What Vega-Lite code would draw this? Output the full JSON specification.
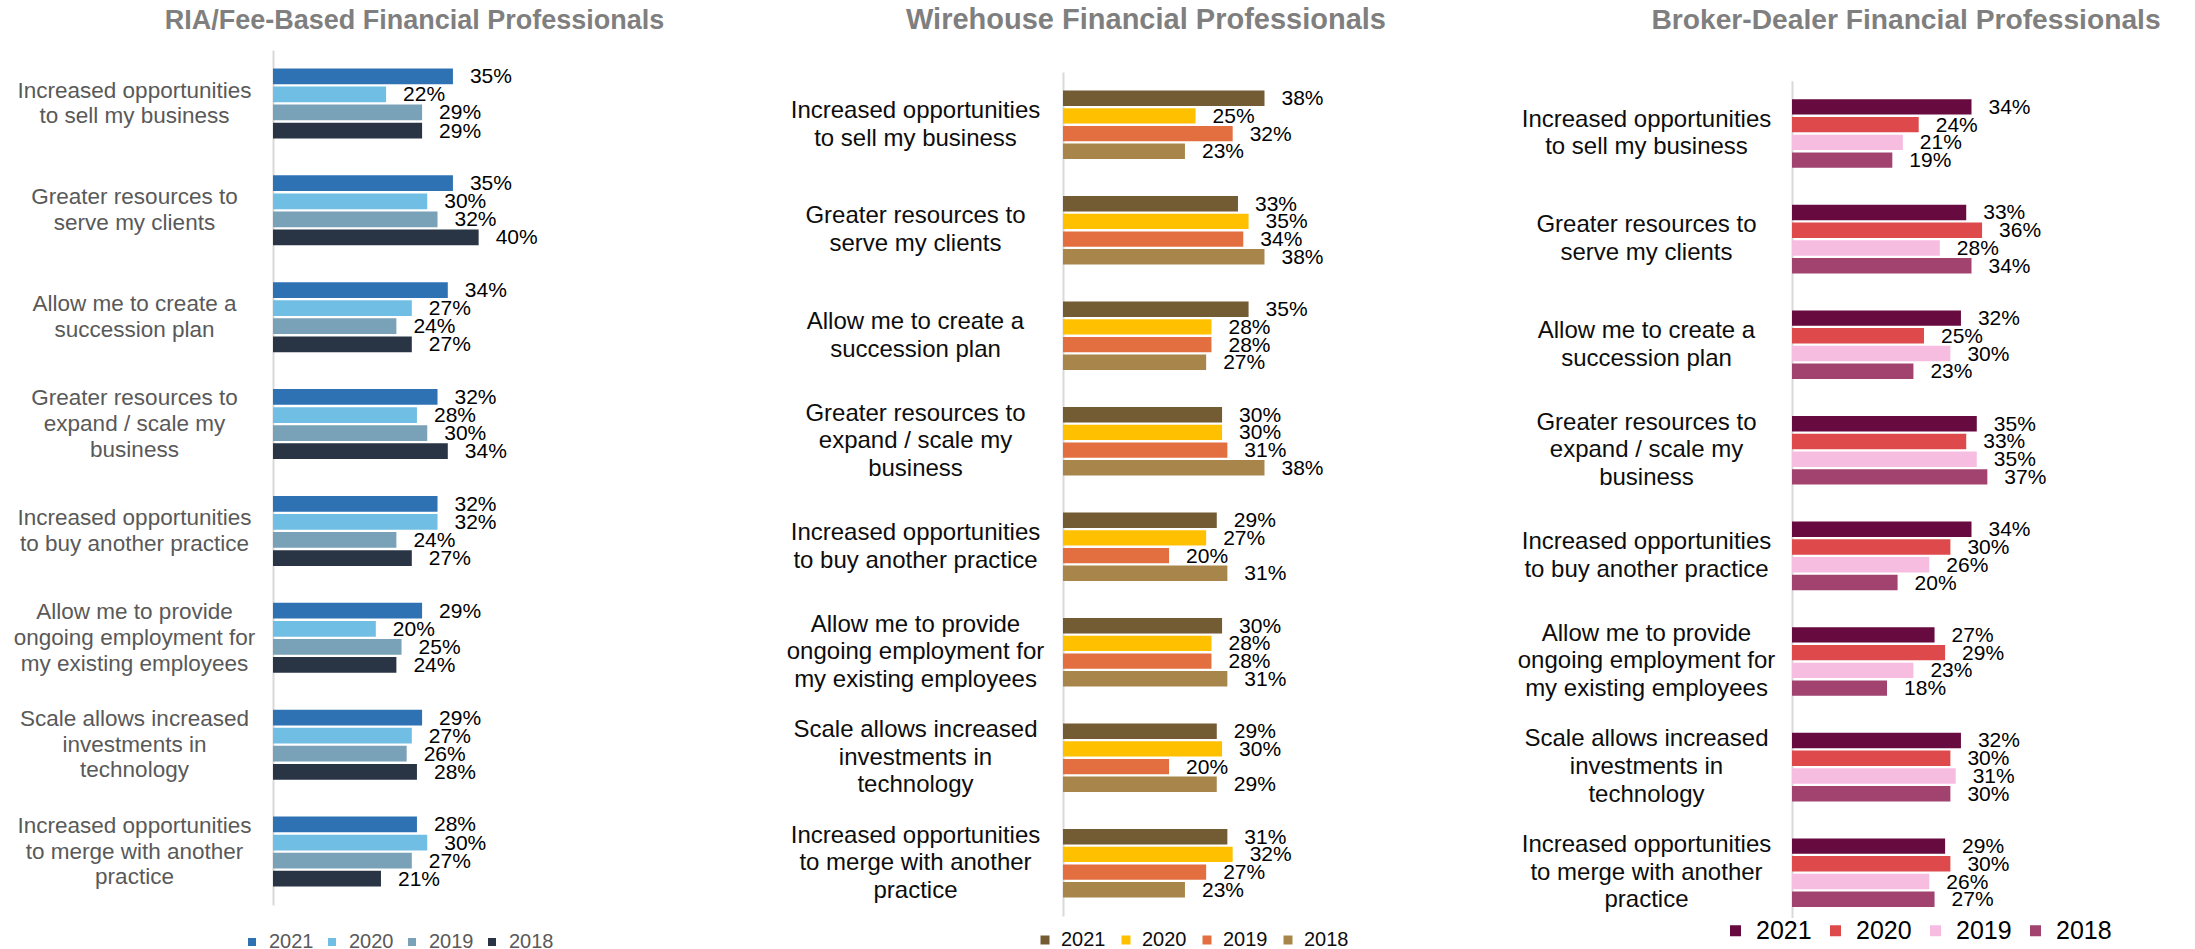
{
  "$schema": "https://vega.github.io/schema/vega-lite/v6.json",
  "background": "white",
  "padding": {"left": 13, "top": 5, "right": 0, "bottom": 0},
  "spacing": 112,
  "resolve": {"scale": {"color": "independent", "x": "independent", "y": "independent", "yOffset": "independent"}, "legend": {"color": "independent"}},
  "config": {"view": {"stroke": null}, "font": "Liberation Sans"},
  "datasets": {
    "ria": [
      {"category": "Increased opportunities\nto sell my business", "year": "2021", "value": 0.35},
      {"category": "Increased opportunities\nto sell my business", "year": "2020", "value": 0.22},
      {"category": "Increased opportunities\nto sell my business", "year": "2019", "value": 0.29},
      {"category": "Increased opportunities\nto sell my business", "year": "2018", "value": 0.29},
      {"category": "Greater resources to\nserve my clients", "year": "2021", "value": 0.35},
      {"category": "Greater resources to\nserve my clients", "year": "2020", "value": 0.30},
      {"category": "Greater resources to\nserve my clients", "year": "2019", "value": 0.32},
      {"category": "Greater resources to\nserve my clients", "year": "2018", "value": 0.40},
      {"category": "Allow me to create a\nsuccession plan", "year": "2021", "value": 0.34},
      {"category": "Allow me to create a\nsuccession plan", "year": "2020", "value": 0.27},
      {"category": "Allow me to create a\nsuccession plan", "year": "2019", "value": 0.24},
      {"category": "Allow me to create a\nsuccession plan", "year": "2018", "value": 0.27},
      {"category": "Greater resources to\nexpand / scale my\nbusiness", "year": "2021", "value": 0.32},
      {"category": "Greater resources to\nexpand / scale my\nbusiness", "year": "2020", "value": 0.28},
      {"category": "Greater resources to\nexpand / scale my\nbusiness", "year": "2019", "value": 0.30},
      {"category": "Greater resources to\nexpand / scale my\nbusiness", "year": "2018", "value": 0.34},
      {"category": "Increased opportunities\nto buy another practice", "year": "2021", "value": 0.32},
      {"category": "Increased opportunities\nto buy another practice", "year": "2020", "value": 0.32},
      {"category": "Increased opportunities\nto buy another practice", "year": "2019", "value": 0.24},
      {"category": "Increased opportunities\nto buy another practice", "year": "2018", "value": 0.27},
      {"category": "Allow me to provide\nongoing employment for\nmy existing employees", "year": "2021", "value": 0.29},
      {"category": "Allow me to provide\nongoing employment for\nmy existing employees", "year": "2020", "value": 0.20},
      {"category": "Allow me to provide\nongoing employment for\nmy existing employees", "year": "2019", "value": 0.25},
      {"category": "Allow me to provide\nongoing employment for\nmy existing employees", "year": "2018", "value": 0.24},
      {"category": "Scale allows increased\ninvestments in\ntechnology", "year": "2021", "value": 0.29},
      {"category": "Scale allows increased\ninvestments in\ntechnology", "year": "2020", "value": 0.27},
      {"category": "Scale allows increased\ninvestments in\ntechnology", "year": "2019", "value": 0.26},
      {"category": "Scale allows increased\ninvestments in\ntechnology", "year": "2018", "value": 0.28},
      {"category": "Increased opportunities\nto merge with another\npractice", "year": "2021", "value": 0.28},
      {"category": "Increased opportunities\nto merge with another\npractice", "year": "2020", "value": 0.30},
      {"category": "Increased opportunities\nto merge with another\npractice", "year": "2019", "value": 0.27},
      {"category": "Increased opportunities\nto merge with another\npractice", "year": "2018", "value": 0.21}
    ],
    "wire": [
      {"category": "Increased opportunities\nto sell my business", "year": "2021", "value": 0.38},
      {"category": "Increased opportunities\nto sell my business", "year": "2020", "value": 0.25},
      {"category": "Increased opportunities\nto sell my business", "year": "2019", "value": 0.32},
      {"category": "Increased opportunities\nto sell my business", "year": "2018", "value": 0.23},
      {"category": "Greater resources to\nserve my clients", "year": "2021", "value": 0.33},
      {"category": "Greater resources to\nserve my clients", "year": "2020", "value": 0.35},
      {"category": "Greater resources to\nserve my clients", "year": "2019", "value": 0.34},
      {"category": "Greater resources to\nserve my clients", "year": "2018", "value": 0.38},
      {"category": "Allow me to create a\nsuccession plan", "year": "2021", "value": 0.35},
      {"category": "Allow me to create a\nsuccession plan", "year": "2020", "value": 0.28},
      {"category": "Allow me to create a\nsuccession plan", "year": "2019", "value": 0.28},
      {"category": "Allow me to create a\nsuccession plan", "year": "2018", "value": 0.27},
      {"category": "Greater resources to\nexpand / scale my\nbusiness", "year": "2021", "value": 0.30},
      {"category": "Greater resources to\nexpand / scale my\nbusiness", "year": "2020", "value": 0.30},
      {"category": "Greater resources to\nexpand / scale my\nbusiness", "year": "2019", "value": 0.31},
      {"category": "Greater resources to\nexpand / scale my\nbusiness", "year": "2018", "value": 0.38},
      {"category": "Increased opportunities\nto buy another practice", "year": "2021", "value": 0.29},
      {"category": "Increased opportunities\nto buy another practice", "year": "2020", "value": 0.27},
      {"category": "Increased opportunities\nto buy another practice", "year": "2019", "value": 0.20},
      {"category": "Increased opportunities\nto buy another practice", "year": "2018", "value": 0.31},
      {"category": "Allow me to provide\nongoing employment for\nmy existing employees", "year": "2021", "value": 0.30},
      {"category": "Allow me to provide\nongoing employment for\nmy existing employees", "year": "2020", "value": 0.28},
      {"category": "Allow me to provide\nongoing employment for\nmy existing employees", "year": "2019", "value": 0.28},
      {"category": "Allow me to provide\nongoing employment for\nmy existing employees", "year": "2018", "value": 0.31},
      {"category": "Scale allows increased\ninvestments in\ntechnology", "year": "2021", "value": 0.29},
      {"category": "Scale allows increased\ninvestments in\ntechnology", "year": "2020", "value": 0.30},
      {"category": "Scale allows increased\ninvestments in\ntechnology", "year": "2019", "value": 0.20},
      {"category": "Scale allows increased\ninvestments in\ntechnology", "year": "2018", "value": 0.29},
      {"category": "Increased opportunities\nto merge with another\npractice", "year": "2021", "value": 0.31},
      {"category": "Increased opportunities\nto merge with another\npractice", "year": "2020", "value": 0.32},
      {"category": "Increased opportunities\nto merge with another\npractice", "year": "2019", "value": 0.27},
      {"category": "Increased opportunities\nto merge with another\npractice", "year": "2018", "value": 0.23}
    ],
    "bd": [
      {"category": "Increased opportunities\nto sell my business", "year": "2021", "value": 0.34},
      {"category": "Increased opportunities\nto sell my business", "year": "2020", "value": 0.24},
      {"category": "Increased opportunities\nto sell my business", "year": "2019", "value": 0.21},
      {"category": "Increased opportunities\nto sell my business", "year": "2018", "value": 0.19},
      {"category": "Greater resources to\nserve my clients", "year": "2021", "value": 0.33},
      {"category": "Greater resources to\nserve my clients", "year": "2020", "value": 0.36},
      {"category": "Greater resources to\nserve my clients", "year": "2019", "value": 0.28},
      {"category": "Greater resources to\nserve my clients", "year": "2018", "value": 0.34},
      {"category": "Allow me to create a\nsuccession plan", "year": "2021", "value": 0.32},
      {"category": "Allow me to create a\nsuccession plan", "year": "2020", "value": 0.25},
      {"category": "Allow me to create a\nsuccession plan", "year": "2019", "value": 0.30},
      {"category": "Allow me to create a\nsuccession plan", "year": "2018", "value": 0.23},
      {"category": "Greater resources to\nexpand / scale my\nbusiness", "year": "2021", "value": 0.35},
      {"category": "Greater resources to\nexpand / scale my\nbusiness", "year": "2020", "value": 0.33},
      {"category": "Greater resources to\nexpand / scale my\nbusiness", "year": "2019", "value": 0.35},
      {"category": "Greater resources to\nexpand / scale my\nbusiness", "year": "2018", "value": 0.37},
      {"category": "Increased opportunities\nto buy another practice", "year": "2021", "value": 0.34},
      {"category": "Increased opportunities\nto buy another practice", "year": "2020", "value": 0.30},
      {"category": "Increased opportunities\nto buy another practice", "year": "2019", "value": 0.26},
      {"category": "Increased opportunities\nto buy another practice", "year": "2018", "value": 0.20},
      {"category": "Allow me to provide\nongoing employment for\nmy existing employees", "year": "2021", "value": 0.27},
      {"category": "Allow me to provide\nongoing employment for\nmy existing employees", "year": "2020", "value": 0.29},
      {"category": "Allow me to provide\nongoing employment for\nmy existing employees", "year": "2019", "value": 0.23},
      {"category": "Allow me to provide\nongoing employment for\nmy existing employees", "year": "2018", "value": 0.18},
      {"category": "Scale allows increased\ninvestments in\ntechnology", "year": "2021", "value": 0.32},
      {"category": "Scale allows increased\ninvestments in\ntechnology", "year": "2020", "value": 0.30},
      {"category": "Scale allows increased\ninvestments in\ntechnology", "year": "2019", "value": 0.31},
      {"category": "Scale allows increased\ninvestments in\ntechnology", "year": "2018", "value": 0.30},
      {"category": "Increased opportunities\nto merge with another\npractice", "year": "2021", "value": 0.29},
      {"category": "Increased opportunities\nto merge with another\npractice", "year": "2020", "value": 0.30},
      {"category": "Increased opportunities\nto merge with another\npractice", "year": "2019", "value": 0.26},
      {"category": "Increased opportunities\nto merge with another\npractice", "year": "2018", "value": 0.27}
    ]
  },
  "hconcat": [
    {
      "data": {"name": "ria"},
      "width": 401,
      "height": 855,
      "title": {"text": "RIA/Fee-Based Financial Professionals", "font": "Liberation Sans", "fontSize": 27, "fontWeight": "bold", "color": "#7F7F7F", "anchor": "middle", "frame": "group", "offset": 15, "dx": -59},
      "encoding": {
        "y": {"field": "category", "type": "nominal", "sort": null,
          "scale": {"paddingInner": 0.345, "paddingOuter": 0.1725},
          "axis": {"title": null, "ticks": false, "tickSize": 0, "labelExpr": "split(datum.label, '\\n')", "labelAlign": "center", "labelBaseline": "middle", "labelPadding": 139, "labelLimit": 0,
            "labelOffset": {"condition": {"test": "length(split(datum.label, '\\n')) > 2", "value": -25.7}, "value": -12.85},
            "labelFont": "Liberation Sans", "labelFontSize": 22.5, "labelLineHeight": 25.7, "labelColor": "#595959", "domainColor": "#D9D9D9", "domainWidth": 2, "grid": false}},
        "yOffset": {"field": "year", "type": "nominal", "sort": ["2021", "2020", "2019", "2018"], "scale": {"paddingInner": 0.13, "paddingOuter": 0}},
        "x": {"field": "value", "type": "quantitative", "scale": {"domain": [0, 0.78], "nice": false}, "axis": null}
      },
      "layer": [
        {
          "mark": {"type": "bar"},
          "encoding": {
            "color": {"field": "year", "type": "nominal",
              "scale": {"domain": ["2021", "2020", "2019", "2018"], "range": ["#2E72B4", "#70BEE4", "#79A1B7", "#293544"]},
              "legend": {"title": null, "orient": "none", "direction": "horizontal", "columns": 4, "legendX": -31, "legendY": 882, "symbolType": "square", "symbolSize": 64, "symbolStrokeWidth": 0, "labelFont": "Liberation Sans", "labelFontSize": 20, "labelColor": "#595959", "labelOffset": 7, "columnPadding": 8}}
          }
        },
        {
          "mark": {"type": "text", "align": "left", "baseline": "middle", "dx": 17, "dy": 1, "font": "Liberation Sans", "fontSize": 21, "fill": "#000000"},
          "encoding": {"text": {"field": "value", "type": "quantitative", "format": ".0%"}}
        }
      ]
    },
    {
      "data": {"name": "wire"},
      "width": 342,
      "height": 866,
      "title": {"text": "Wirehouse Financial Professionals", "font": "Liberation Sans", "fontSize": 29, "fontWeight": "bold", "color": "#7F7F7F", "anchor": "middle", "frame": "group", "offset": 15, "dx": -88},
      "encoding": {
        "y": {"field": "category", "type": "nominal", "sort": null,
          "scale": {"paddingInner": 0.35, "paddingOuter": 0.175, "range": [22, 866]},
          "axis": {"title": null, "ticks": false, "tickSize": 0, "labelExpr": "split(datum.label, '\\n')", "labelAlign": "center", "labelBaseline": "middle", "labelPadding": 148, "labelLimit": 0,
            "labelOffset": {"condition": {"test": "length(split(datum.label, '\\n')) > 2", "value": -27.7}, "value": -13.85},
            "labelFont": "Liberation Sans", "labelFontSize": 24, "labelLineHeight": 27.7, "labelColor": "#0D0D0D", "domainColor": "#D9D9D9", "domainWidth": 2, "grid": false}},
        "yOffset": {"field": "year", "type": "nominal", "sort": ["2021", "2020", "2019", "2018"], "scale": {"paddingInner": 0.13, "paddingOuter": 0}},
        "x": {"field": "value", "type": "quantitative", "scale": {"domain": [0, 0.645], "nice": false}, "axis": null}
      },
      "layer": [
        {
          "mark": {"type": "bar"},
          "encoding": {
            "color": {"field": "year", "type": "nominal",
              "scale": {"domain": ["2021", "2020", "2019", "2018"], "range": ["#735B34", "#FFC000", "#E36F40", "#A8864B"]},
              "legend": {"title": null, "orient": "none", "direction": "horizontal", "columns": 4, "legendX": -28, "legendY": 880, "symbolType": "square", "symbolSize": 81, "symbolStrokeWidth": 0, "labelFont": "Liberation Sans", "labelFontSize": 20, "labelColor": "#0D0D0D", "labelOffset": 6, "columnPadding": 10}}
          }
        },
        {
          "mark": {"type": "text", "align": "left", "baseline": "middle", "dx": 17, "dy": 1, "font": "Liberation Sans", "fontSize": 21, "fill": "#000000"},
          "encoding": {"text": {"field": "value", "type": "quantitative", "format": ".0%"}}
        }
      ]
    },
    {
      "data": {"name": "bd"},
      "width": 340,
      "height": 875.5,
      "title": {"text": "Broker-Dealer Financial Professionals", "font": "Liberation Sans", "fontSize": 28.2, "fontWeight": "bold", "color": "#7F7F7F", "anchor": "middle", "frame": "group", "offset": 15, "dx": -56},
      "encoding": {
        "y": {"field": "category", "type": "nominal", "sort": null,
          "scale": {"paddingInner": 0.35, "paddingOuter": 0.175, "range": [30.7, 875.5]},
          "axis": {"title": null, "ticks": false, "tickSize": 0, "labelExpr": "split(datum.label, '\\n')", "labelAlign": "center", "labelBaseline": "middle", "labelPadding": 146, "labelLimit": 0,
            "labelOffset": {"condition": {"test": "length(split(datum.label, '\\n')) > 2", "value": -27.7}, "value": -13.85},
            "labelFont": "Liberation Sans", "labelFontSize": 24, "labelLineHeight": 27.7, "labelColor": "#0D0D0D", "domainColor": "#D9D9D9", "domainWidth": 2, "grid": false}},
        "yOffset": {"field": "year", "type": "nominal", "sort": ["2021", "2020", "2019", "2018"], "scale": {"paddingInner": 0.13, "paddingOuter": 0}},
        "x": {"field": "value", "type": "quantitative", "scale": {"domain": [0, 0.644], "nice": false}, "axis": null}
      },
      "layer": [
        {
          "mark": {"type": "bar"},
          "encoding": {
            "color": {"field": "year", "type": "nominal",
              "scale": {"domain": ["2021", "2020", "2019", "2018"], "range": ["#660A40", "#DE4A4C", "#F7BDE0", "#A1426F"]},
              "legend": {"title": null, "orient": "none", "direction": "horizontal", "columns": 4, "legendX": -69, "legendY": 868, "fillColor": "white", "symbolType": "square", "symbolSize": 121, "symbolStrokeWidth": 0, "labelFont": "Liberation Sans", "labelFontSize": 25, "labelColor": "#000000", "labelOffset": 8, "columnPadding": 11}}
          }
        },
        {
          "mark": {"type": "text", "align": "left", "baseline": "middle", "dx": 17, "dy": 1, "font": "Liberation Sans", "fontSize": 21, "fill": "#000000"},
          "encoding": {"text": {"field": "value", "type": "quantitative", "format": ".0%"}}
        }
      ]
    }
  ]
}
